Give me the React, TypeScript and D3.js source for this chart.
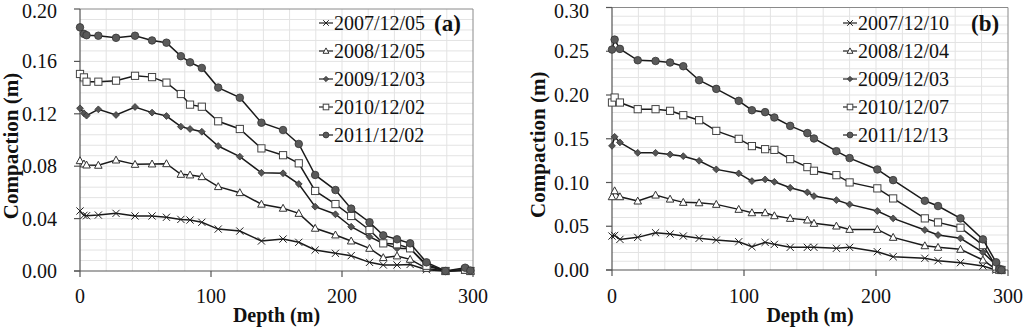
import React, { useRef, useEffect } from "react";
import * as d3 from "d3";

// panel (a) depths and compaction values
const depthA = [0, 3, 5, 14, 27.5, 42, 55, 66, 77, 84, 93, 105.5, 122, 138.5, 155, 167, 179.5, 195, 207, 221, 231.5, 242, 252, 264.5, 279, 294, 298];
const a2007 = [0.0458, 0.0425, 0.0422, 0.0427, 0.044, 0.042, 0.042, 0.041, 0.0394, 0.0389, 0.0372, 0.032, 0.0305, 0.0229, 0.0244, 0.0219, 0.016, 0.0135, 0.0117, 0.0066, 0.0046, 0.0046, 0.005, 0.001, 0.0, 0.0005, 0.0];
const a2008 = [0.0842, 0.0817, 0.0809, 0.0807, 0.0847, 0.0814, 0.0817, 0.0819, 0.0738, 0.0733, 0.072, 0.0644, 0.0598, 0.051, 0.0479, 0.044, 0.0326, 0.0275, 0.0229, 0.0173, 0.0102, 0.0115, 0.0089, 0.002, 0.0, 0.0005, 0.0];
const a2009 = [0.1242, 0.1204, 0.1186, 0.1234, 0.1191, 0.1252, 0.1209, 0.1183, 0.1102, 0.1084, 0.1063, 0.0954, 0.0873, 0.075, 0.0746, 0.0664, 0.0491, 0.0433, 0.0338, 0.0262, 0.021, 0.0173, 0.017, 0.005, 0.0, 0.0008, 0.0];
const a2010 = [0.1504, 0.1478, 0.1445, 0.1445, 0.1453, 0.149, 0.148, 0.1438, 0.1351, 0.127, 0.1254, 0.1143, 0.1084, 0.0936, 0.0884, 0.0822, 0.0611, 0.0511, 0.042, 0.0313, 0.0211, 0.0204, 0.0173, 0.004, 0.0, 0.001, 0.0];
const a2011 = [0.186, 0.181, 0.18, 0.1796, 0.178, 0.1796, 0.176, 0.1743, 0.164, 0.1593, 0.155, 0.14, 0.1323, 0.1132, 0.1076, 0.097, 0.0733, 0.0618, 0.0476, 0.0372, 0.0272, 0.0242, 0.0211, 0.0066, 0.0, 0.0025, 0.0003];

// panel (b)
const depthB = [0, 2, 6, 19.5, 33, 44, 54, 66, 79, 96, 106, 116, 123, 135, 148, 153, 170, 180, 201, 213, 237, 247, 264, 281, 291, 293.5, 295];
const b2007 = [0.0388, 0.0395, 0.035, 0.0373, 0.0426, 0.0411, 0.0388, 0.0362, 0.0342, 0.0323, 0.0266, 0.0316, 0.0293, 0.0259, 0.0259, 0.0259, 0.0248, 0.0259, 0.0209, 0.0152, 0.0134, 0.0106, 0.0084, 0.0046, 0.0, 0.0, 0.0];
const b2008 = [0.0837, 0.0905, 0.0837, 0.0788, 0.0856, 0.081, 0.0773, 0.0768, 0.075, 0.0693, 0.0654, 0.0654, 0.062, 0.059, 0.0571, 0.0533, 0.0502, 0.0464, 0.0464, 0.0373, 0.0277, 0.0259, 0.0236, 0.0114, 0.0008, 0.0, 0.0];
const b2009 = [0.1419, 0.1522, 0.1458, 0.1339, 0.1339, 0.1321, 0.1301, 0.1248, 0.115, 0.1104, 0.1016, 0.1035, 0.1008, 0.094, 0.0888, 0.0845, 0.0799, 0.075, 0.0674, 0.059, 0.0457, 0.04, 0.0362, 0.0202, 0.0057, 0.0005, 0.0];
const b2010 = [0.1914, 0.1971, 0.1914, 0.1838, 0.1838, 0.1819, 0.1769, 0.1712, 0.159, 0.1499, 0.1416, 0.1381, 0.1373, 0.1267, 0.1176, 0.1134, 0.1084, 0.1001, 0.0933, 0.0818, 0.059, 0.0544, 0.0483, 0.0285, 0.004, 0.0005, 0.0];
const b2011 = [0.2519, 0.2633, 0.2527, 0.2397, 0.2389, 0.2371, 0.2329, 0.2169, 0.207, 0.1933, 0.1826, 0.1804, 0.1743, 0.1647, 0.1564, 0.1503, 0.1358, 0.1279, 0.1149, 0.1027, 0.0791, 0.0731, 0.059, 0.035, 0.0088, 0.001, 0.0];

const legendA = ["2007/12/05", "2008/12/05", "2009/12/03", "2010/12/02", "2011/12/02"];
const legendB = ["2007/12/10", "2008/12/04", "2009/12/03", "2010/12/07", "2011/12/13"];
const markerKinds = ["cross", "triangle", "diamond", "square", "circle"];

const xTicks = [0, 100, 200, 300];
const yTicksA = [0, 0.04, 0.08, 0.12, 0.16, 0.2];
const yTicksB = [0, 0.05, 0.1, 0.15, 0.2, 0.25, 0.3];

const FONT = '"Liberation Serif", "DejaVu Serif", serif';

function marker(g, kind, x, y, s) {
  if (kind === "cross") {
    g.append("path")
      .attr("d", `M${x - s},${y - s}L${x + s},${y + s}M${x - s},${y + s}L${x + s},${y - s}`)
      .attr("stroke", "#222").attr("stroke-width", 1).attr("fill", "none");
  } else if (kind === "triangle") {
    const h = s * 1.1;
    g.append("path")
      .attr("d", `M${x},${y - h}L${x + s * 1.05},${y + h * 0.75}L${x - s * 1.05},${y + h * 0.75}Z`)
      .attr("fill", "#fff").attr("stroke", "#333").attr("stroke-width", 1);
  } else if (kind === "diamond") {
    const d = s * 0.95;
    g.append("path")
      .attr("d", `M${x},${y - d}L${x + d},${y}L${x},${y + d}L${x - d},${y}Z`)
      .attr("fill", "#555").attr("stroke", "#333").attr("stroke-width", 0.8);
  } else if (kind === "square") {
    g.append("rect")
      .attr("x", x - s).attr("y", y - s).attr("width", 2 * s).attr("height", 2 * s)
      .attr("fill", "#fff").attr("stroke", "#444").attr("stroke-width", 1);
  } else {
    g.append("circle")
      .attr("cx", x).attr("cy", y).attr("r", s * 1.05)
      .attr("fill", "#5a5a5a").attr("stroke", "#333").attr("stroke-width", 0.8);
  }
}

function addText(g, x, y, str, size, opts = {}) {
  return g.append("text")
    .attr("x", x).attr("y", y)
    .attr("text-anchor", opts.anchor || "start")
    .style("font-family", FONT)
    .style("font-size", `${size}px`)
    .style("font-weight", opts.bold ? "bold" : "normal")
    .attr("fill", "#111")
    .text(str);
}

function drawPanel(svg, cfg) {
  const { left, right, top, bottom, depths, series, labels, yMax, yTicks, yMinor, tag, legendX, tagX, yLabelX } = cfg;
  const x = d3.scaleLinear().domain([0, 300]).range([left, right]);
  const y = d3.scaleLinear().domain([0, yMax]).range([bottom, top]);
  const g = svg.append("g");

  // grid
  d3.range(20, 300, 20).forEach((v) => {
    g.append("line").attr("x1", x(v)).attr("x2", x(v)).attr("y1", top).attr("y2", bottom)
      .attr("stroke", "#e3e3e3").attr("stroke-width", 1);
  });
  d3.range(1, Math.round(yMax / yMinor)).forEach((i) => {
    const v = i * yMinor;
    g.append("line").attr("x1", left).attr("x2", right).attr("y1", y(v)).attr("y2", y(v))
      .attr("stroke", "#e3e3e3").attr("stroke-width", 1);
  });

  // frame
  g.append("path").attr("d", `M${left},${top}H${right}V${bottom}`)
    .attr("fill", "none").attr("stroke", "#8a8a8a").attr("stroke-width", 1);

  // axes
  g.append("line").attr("x1", left).attr("x2", left).attr("y1", top).attr("y2", bottom)
    .attr("stroke", "#555").attr("stroke-width", 1.2);
  g.append("line").attr("x1", left - 6).attr("x2", right).attr("y1", bottom).attr("y2", bottom)
    .attr("stroke", "#555").attr("stroke-width", 1.2);

  yTicks.forEach((v) => {
    g.append("line").attr("x1", left - 6).attr("x2", left).attr("y1", y(v)).attr("y2", y(v))
      .attr("stroke", "#555").attr("stroke-width", 1.2);
    // keep the top label inside the picture
    addText(g, left - 23, Math.max(y(v) + 7, 18), v.toFixed(2), 20, { anchor: "end" });
  });
  xTicks.forEach((v) => {
    g.append("line").attr("x1", x(v)).attr("x2", x(v)).attr("y1", bottom).attr("y2", bottom + 6)
      .attr("stroke", "#555").attr("stroke-width", 1.2);
    addText(g, x(v), 303, v, 20, { anchor: "middle" });
  });

  addText(g, (left + right) / 2, 322, "Depth (m)", 20, { anchor: "middle", bold: true });
  addText(g, 0, 0, "Compaction (m)", 21, { anchor: "middle", bold: true })
    .attr("transform", `translate(${yLabelX + 7},${(top + bottom) / 2 + 6}) rotate(-90)`);

  // series
  const line = d3.line().x((d) => x(d[0])).y((d) => y(d[1]));
  series.forEach((vals, i) => {
    const pts = depths.map((d, j) => [d, vals[j]]);
    g.append("path").attr("d", line(pts)).attr("fill", "none")
      .attr("stroke", "#1a1a1a").attr("stroke-width", 1.5);
    pts.forEach((p) => marker(g, markerKinds[i], x(p[0]), y(p[1]), 3.6));
  });

  // legend
  labels.forEach((lab, i) => {
    const ly = 23 + i * 28;
    g.append("line").attr("x1", legendX - 14).attr("x2", legendX).attr("y1", ly).attr("y2", ly)
      .attr("stroke", "#222").attr("stroke-width", 1.2);
    marker(g, markerKinds[i], legendX - 7, ly, 2.8);
    addText(g, legendX + 1, ly + 7, lab, 20);
  });
  addText(g, tagX, 31, tag, 23, { bold: true });
}

const App = () => {
  const ref = useRef(null);

  useEffect(() => {
    const svg = d3.select(ref.current);
    svg.selectAll("*").remove();

    drawPanel(svg, {
      left: 80, right: 473, top: 9, bottom: 271,
      depths: depthA, series: [a2007, a2008, a2009, a2010, a2011], labels: legendA,
      yMax: 0.2, yTicks: yTicksA, yMinor: 0.008, tag: "(a)",
      legendX: 333, tagX: 434, yLabelX: 11,
    });
    drawPanel(svg, {
      left: 612, right: 1008, top: 7.5, bottom: 270,
      depths: depthB, series: [b2007, b2008, b2009, b2010, b2011], labels: legendB,
      yMax: 0.3, yTicks: yTicksB, yMinor: 0.01, tag: "(b)",
      legendX: 857, tagX: 971, yLabelX: 538,
    });
  }, []);

  return (
    <svg ref={ref} width={1024} height={327}
      style={{ position: "absolute", left: 0, top: 0, background: "#fff" }}></svg>
  );
};

export default App;
